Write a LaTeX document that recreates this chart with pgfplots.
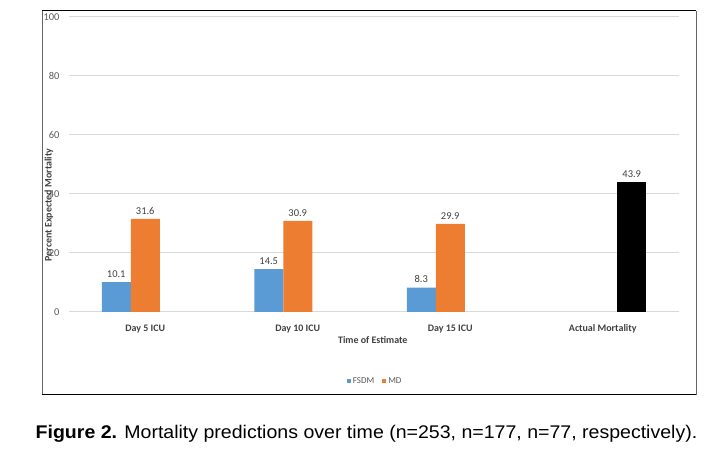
\documentclass[border=0pt]{standalone}
\usepackage{pgfplots}
\pgfplotsset{compat=1.18}
\usepackage{fontspec}
\setmainfont{Carlito}
\newfontfamily\arialf{Liberation Sans}
\definecolor{fsdm}{HTML}{5B9BD5}
\definecolor{md}{HTML}{ED7D31}
\definecolor{gridc}{HTML}{D9D9D9}
\definecolor{txt}{HTML}{595959}
\definecolor{dtxt}{HTML}{404040}
\begin{document}
\begin{tikzpicture}[x=1bp,y=1bp]
\path (0,0) rectangle (719,450);
\draw[black!60, line width=1bp] (42,55) -- (42,439);
\draw[black!60, line width=1bp] (696,55) -- (696,439);
\draw[black, line width=1bp] (42,439) -- (696,439);
\draw[black, line width=1bp] (42,55) -- (696,55);
\begin{axis}[
  at={(69bp,138bp)}, anchor=south west,
  scale only axis, width=610bp, height=295bp,
  xmin=-0.5, xmax=3.5, ymin=0, ymax=100,
  ytick={0,20,40,60,80,100},
  xtick={0,1,2,3},
  xticklabels={Day 5 ICU, Day 10 ICU, Day 15 ICU, Actual Mortality},
  axis line style={draw=none},
  tick style={draw=none},
  ymajorgrids, grid style={gridc, line width=1bp},
  yticklabel style={font=\fontsize{10.5}{12}\selectfont, color=txt, xshift=-6bp},
  xticklabel style={font=\bfseries\fontsize{10}{12}\selectfont, color=dtxt, yshift=-5bp},
  /pgf/number format/assume math mode=true,
  ybar=0pt, bar width=29bp,
  nodes near coords,
  nodes near coords style={font=\fontsize{10.5}{12}\selectfont, color=dtxt, yshift=1bp},
  xlabel={Time of Estimate},
  xlabel style={font=\bfseries\fontsize{10}{12}\selectfont, color=dtxt, at={(axis description cs:0.498,-0.095)}, anchor=center},
  ylabel={Percent Expected Mortality},
  ylabel style={font=\bfseries\fontsize{10}{12}\selectfont, color=dtxt, at={(axis description cs:-0.033,0.363)}, anchor=center},
  legend style={at={(axis description cs:0.502,-0.235)}, anchor=center, draw=none, legend columns=2,
    font=\fontsize{9}{10}\selectfont, text=txt, /tikz/every even column/.append style={column sep=6bp}},
  legend image code/.code={\fill[#1] (0bp,-2bp) rectangle (4bp,2bp);},
]
\addplot[fill=fsdm, draw=none] coordinates {(0,10.1) (1,14.5) (2,8.3)};
\addplot[fill=md, draw=none] coordinates {(0,31.6) (1,30.9) (2,29.9)};
\addplot[fill=black, draw=none] coordinates {(3,43.9)};
\legend{FSDM, MD}
\end{axis}
\node[font=\arialf\fontsize{18.4}{22}\selectfont, anchor=base, xscale=1.066, inner sep=0pt] at (366.5,11) {\textbf{Figure 2.} Mortality predictions over time (n=253, n=177, n=77, respectively).};
\end{tikzpicture}
\end{document}
